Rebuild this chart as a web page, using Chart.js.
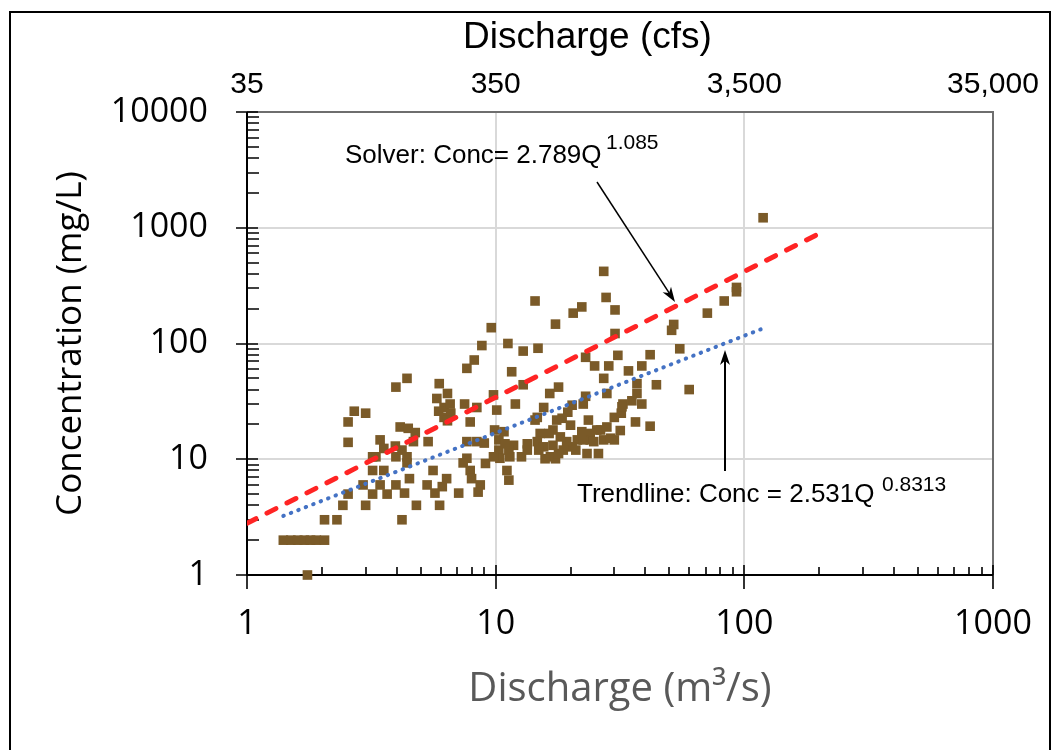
<!DOCTYPE html>
<html><head><meta charset="utf-8">
<script src="https://cdn.jsdelivr.net/npm/chart.js@4"></script>
<style>html,body{margin:0;padding:0;background:#fff;}#wrap{width:1052px;height:750px;}</style>
</head><body><div id="wrap"><canvas id="c" width="1052" height="750"></canvas></div>
<script>
const dischargeM3s = [
  1.4,1.5,1.6,1.7,1.8,1.9,2.05,1.75,2.05,2.3,2.43,2.55,2.55,2.55,2.7,3.0,3.0,2.93,3.2,3.2,3.2,3.43,3.55,3.3,3.55,3.43,3.66,3.97,3.95,3.97,3.97,
  4.4,5.93,5.8,6.4,6.2,6.56,6.2,6.6,5.9,6.4,7.5,8.4,7.9,7.66,8.2,8.8,9.6,9.8,10.1,4.13,4.45,4.75,4.67,5.35,4.2,4.4,4.4,7.66,8.4,9.0,9.9,10.3,10.3,10.4,7.66,7.4,7.9,8.0,8.67,8.5,9.1,5.6,4.5,6.35,6.1,5.7,5.3,4.3,7.1,4.2,4.8,5.95,
  14.4,22.2,20.5,17.4,11.2,12.9,14.8,11.6,12.9,17.9,16.5,23,25,12,15.6,23,119,93,93,83,71,55,60,52,51,27.2,27.8,30.2,30.2,28.5,
  31,41.8,38.7,27.2,34.2,44.3,28,37,37,35.3,32.5,38.7,30,32,36.5,41.8,26.4,31.7,24,27.2,30,21.3,20.3,20.3,22.5,19.5,14.4,17.6,18.5,20,
  17,23.6,25.5,28,32.2,24,29,22.5,19.3,18.2,16.4,15.1,14.7,15.6,17,18.7,21,16.6,15.8,17.4,13.4,13.4,12.7,11.8,11.3,11.4,10.8,10.9,11.1,11.3,
  14.7,9.8,17.9,14.9,23.3,25.9,24.8,22.2
];
const concentrationMgL = [
  2,2,2,2,2,2,2,1,3,3,4,5,14,21,26,25,4,6,5,8,10.5,14.7,12.4,10.5,8,6,5,42,13,10.5,6,
  50,45,33.5,37,28,30,23,25,26,21.5,30,28,21,61,72,96,137,36,26.6,19,18.5,17,14.2,14.2,12,10.5,9.3,14.2,14.2,13.8,17.9,14.7,12,10.2,10.2,9.3,8,6.8,6,5.2,9.2,8,6.8,6.8,5.8,5.1,6,5.1,5.1,3,4,4,
  233,207,183,147,100,86,91,57,44,42,37,76,64,30,28,35,1220,305,280,233,183,90,40,146,130,420,250,195,122,64,
  79,80,64,50,58,44,37,45,37,32,30,30,23,25,21,19.3,17.9,17.7,14.7,14.7,14.7,14.7,12.8,29.3,30,25.5,21.8,21.8,22.6,19.7,
  17.9,21.8,17.9,19,28.4,16.7,15.2,14.7,14.2,15.6,16.7,16.7,14.2,12.8,13.2,12,12,10.5,10.1,10.1,13.6,12,10.5,13.2,12,10.5,17.3,13.6,8,6.6,
  23,10.5,11.2,12,11.2,11.2,14.2,17.3
];
// Fitted lines, end points
const solverLineX = [1, 206];
const solverLineY = [2.8, 920];
const trendLineX = [1.4, 119];
const trendLineY = [3.24, 135];
// Tick values and labels
const xTickValues = [1, 10, 100, 1000];
const yTickValues = [1, 10, 100, 1000, 10000];
const cfsTickValues = [35, 350, 3500, 35000];
const cfsTickLabels = ['35', '350', '3,500', '35,000'];
const minorSteps = [2,3,4,5,6,7,8,9];

const pts = dischargeM3s.map((x, i) => ({x, y: concentrationMgL[i]}));
const solverPts = solverLineX.map((x, i) => ({x, y: solverLineY[i]}));
const trendPts = trendLineX.map((x, i) => ({x, y: trendLineY[i]}));

function drawArrow(ctx, x1, y1, x2, y2, w, hl, hw) {
  const a = Math.atan2(y2 - y1, x2 - x1);
  const cos = Math.cos(a), sin = Math.sin(a);
  ctx.save();
  ctx.strokeStyle = '#000'; ctx.fillStyle = '#000'; ctx.lineWidth = w;
  ctx.beginPath(); ctx.moveTo(x1, y1); ctx.lineTo(x2 - cos * hl * 0.7, y2 - sin * hl * 0.7); ctx.stroke();
  ctx.beginPath();
  ctx.moveTo(x2, y2);
  ctx.lineTo(x2 - cos * hl - sin * hw, y2 - sin * hl + cos * hw);
  ctx.lineTo(x2 - cos * hl * 0.72, y2 - sin * hl * 0.72);
  ctx.lineTo(x2 - cos * hl + sin * hw, y2 - sin * hl - cos * hw);
  ctx.closePath(); ctx.fill();
  ctx.restore();
}

const framePlugin = {
  id: 'frame',
  afterLayout(chart) {
    const t = chart.titleBlock;
    if (t) { t.left = 123; t.right = 1052; }
  },
  beforeDatasetsDraw(chart) {
    const {ctx, chartArea: a, scales: {x, y}} = chart;
    ctx.save();
    ctx.lineCap = 'butt';
    ctx.strokeStyle = '#6e6e6e'; ctx.lineWidth = 2;
    ctx.beginPath(); ctx.moveTo(a.left, a.top); ctx.lineTo(a.right, a.top); ctx.lineTo(a.right, a.bottom); ctx.stroke();
    ctx.strokeStyle = '#000'; ctx.lineWidth = 2;
    ctx.beginPath(); ctx.moveTo(a.left, a.top); ctx.lineTo(a.left, a.bottom); ctx.lineTo(a.right, a.bottom); ctx.stroke();
    ctx.lineWidth = 1.6;
    ctx.beginPath();
    xTickValues.forEach(d => {
      const p = Math.round(x.getPixelForValue(d));
      ctx.moveTo(p, a.bottom - 10); ctx.lineTo(p, a.bottom + 14);
      if (d < 1000) minorSteps.forEach(m => {
        const q = Math.round(x.getPixelForValue(d * m));
        ctx.moveTo(q, a.bottom - 8); ctx.lineTo(q, a.bottom);
      });
    });
    yTickValues.forEach(d => {
      const p = Math.round(y.getPixelForValue(d));
      ctx.moveTo(a.left - 11, p); ctx.lineTo(a.left + 11, p);
      if (d < 10000) minorSteps.forEach(m => {
        const q = Math.round(y.getPixelForValue(d * m));
        ctx.moveTo(a.left, q); ctx.lineTo(a.left + 12, q);
      });
    });
    ctx.stroke();
    ctx.restore();
  },
  afterDraw(chart) {
    const ctx = chart.ctx;
    ctx.save();
    // outer frame
    ctx.strokeStyle = '#000'; ctx.lineWidth = 2;
    ctx.strokeRect(10, 12, 1040, 760);
    // annotations
    ctx.fillStyle = '#000'; ctx.textAlign = 'left'; ctx.textBaseline = 'alphabetic';
    ctx.font = '26px "Liberation Sans", Arial, sans-serif';
    ctx.fillText('Solver: Conc= 2.789Q', 345, 163);
    ctx.fillText('Trendline: Conc = 2.531Q', 577, 502);
    ctx.font = '21px "Liberation Sans", Arial, sans-serif';
    ctx.fillText('1.085', 606, 149);
    ctx.fillText('0.8313', 882, 491);
    ctx.restore();
    drawArrow(ctx, 597, 182, 675, 302, 1.5, 15, 5);
    drawArrow(ctx, 725, 471, 725, 350, 2, 15, 5);
  }
};

const gridColor = (vals) => (c) => (c.tick && vals.includes(c.tick.value)) ? '#d9d9d9' : 'rgba(0,0,0,0)';

new Chart(document.getElementById('c'), {
  type: 'scatter',
  data: {
    datasets: [
      {label: 'Solver', type: 'line', data: solverPts, borderColor: '#ff2424', borderWidth: 5,
       borderDash: [10, 12.4], borderCapStyle: 'round', pointRadius: 0, fill: false, tension: 0},
      {label: 'Trendline', type: 'line', data: trendPts, borderColor: '#4472c4', borderWidth: 4,
       borderDash: [0.5, 7.5], borderCapStyle: 'round', pointRadius: 0, fill: false, tension: 0},
      {label: 'Observed', data: pts, pointStyle: 'rect', pointRadius: 6.8, pointHoverRadius: 6.8,
       backgroundColor: '#7a5a28', borderColor: '#7a5a28', borderWidth: 0, clip: false}
    ]
  },
  options: {
    responsive: false, animation: false, devicePixelRatio: 1,
    layout: {padding: {left: 0, right: 59, top: 0, bottom: 0}},
    plugins: {
      legend: {display: false}, tooltip: {enabled: false},
      title: {display: true, text: 'Discharge (cfs)', color: '#000',
              font: {family: '"Liberation Sans", Arial, sans-serif', size: 37, weight: 'normal'},
              padding: {top: 16, bottom: 0}}
    },
    scales: {
      x: {
        type: 'logarithmic', position: 'bottom', min: 1, max: 1000,
        afterBuildTicks: s => { s.ticks = xTickValues.map(v => ({value: v})); },
        ticks: {callback: v => String(v), color: '#000', padding: 29, maxRotation: 0, autoSkip: false,
                font: {family: '"Open Sans", sans-serif', size: 34}},
        grid: {color: gridColor([10, 100]), lineWidth: 2, drawTicks: false},
        border: {display: false},
        title: {display: true, text: 'Discharge (m³/s)', color: '#595959',
                font: {family: '"Open Sans", sans-serif', size: 40}, padding: {top: 0, bottom: 36}},
        afterFit: s => { s.height = 175; s.paddingLeft = 0; s.paddingRight = 0; }
      },
      x2: {
        type: 'logarithmic', position: 'top', min: 35, max: 35000,
        afterBuildTicks: s => { s.ticks = cfsTickValues.map(v => ({value: v})); },
        ticks: {callback: (v, i) => cfsTickLabels[i], color: '#000', padding: 9, maxRotation: 0, autoSkip: false,
                font: {family: '"Liberation Sans", Arial, sans-serif', size: 30}},
        grid: {display: false, drawTicks: false},
        border: {display: false},
        afterFit: s => { s.height = 51.6; s.paddingLeft = 0; s.paddingRight = 0; }
      },
      y: {
        type: 'logarithmic', position: 'left', min: 1, max: 10000,
        afterBuildTicks: s => { s.ticks = yTickValues.map(v => ({value: v})); },
        ticks: {callback: v => String(v), color: '#000', padding: 39, autoSkip: false,
                font: {family: '"Open Sans", sans-serif', size: 34}},
        grid: {color: gridColor([10, 100, 1000]), lineWidth: 2, drawTicks: false},
        border: {display: false},
        title: {display: true, text: 'Concentration (mg/L)', color: '#000',
                font: {family: '"Open Sans", sans-serif', size: 35}, padding: {top: 50, bottom: 0}},
        afterFit: s => { s.width = 247; s.paddingTop = 0; s.paddingBottom = 0; }
      }
    }
  },
  plugins: [framePlugin]
});
</script></body></html>
